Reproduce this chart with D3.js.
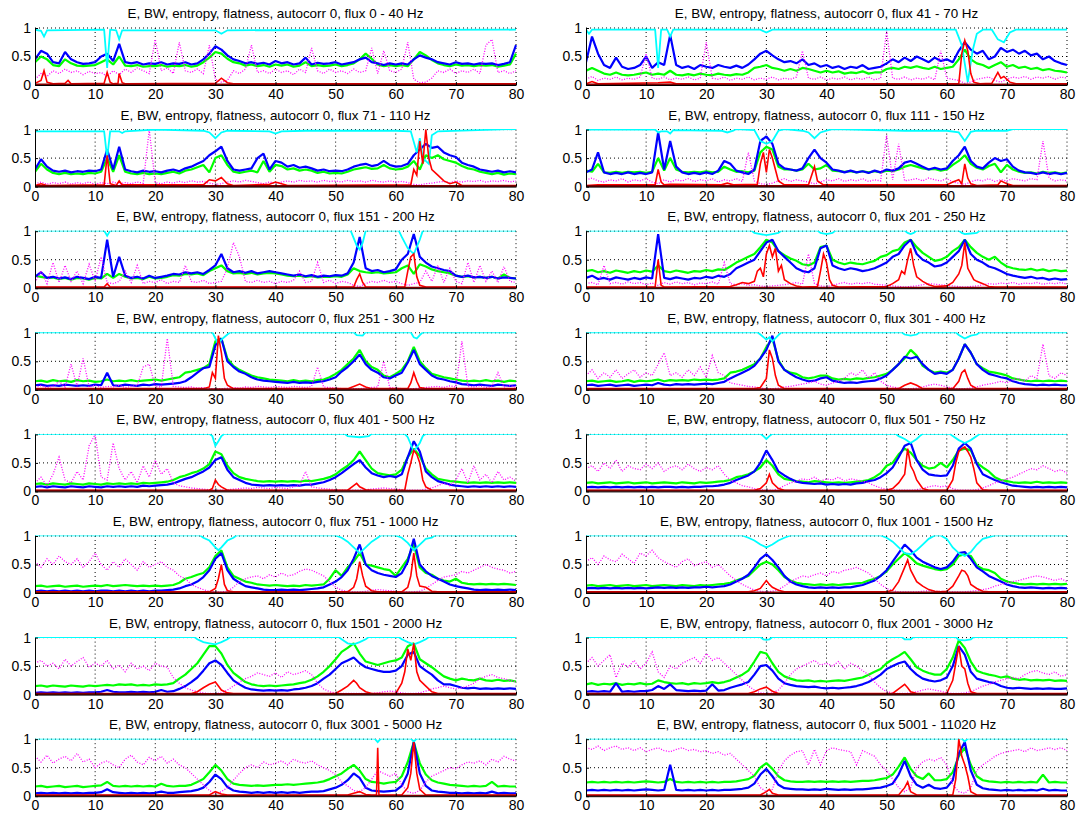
<!DOCTYPE html>
<html>
<head>
<meta charset="utf-8">
<script src="https://cdn.jsdelivr.net/npm/d3@7"></script>
<style>
  body { margin: 0; background: #fff; }
</style>
</head>
<body>
<div id="chart"></div>
<script>

var titles = [
  'E, BW, entropy, flatness, autocorr 0, flux 0 - 40 Hz',
  'E, BW, entropy, flatness, autocorr 0, flux 41 - 70 Hz',
  'E, BW, entropy, flatness, autocorr 0, flux 71 - 110 Hz',
  'E, BW, entropy, flatness, autocorr 0, flux 111 - 150 Hz',
  'E, BW, entropy, flatness, autocorr 0, flux 151 - 200 Hz',
  'E, BW, entropy, flatness, autocorr 0, flux 201 - 250 Hz',
  'E, BW, entropy, flatness, autocorr 0, flux 251 - 300 Hz',
  'E, BW, entropy, flatness, autocorr 0, flux 301 - 400 Hz',
  'E, BW, entropy, flatness, autocorr 0, flux 401 - 500 Hz',
  'E, BW, entropy, flatness, autocorr 0, flux 501 - 750 Hz',
  'E, BW, entropy, flatness, autocorr 0, flux 751 - 1000 Hz',
  'E, BW, entropy, flatness, autocorr 0, flux 1001 - 1500 Hz',
  'E, BW, entropy, flatness, autocorr 0, flux 1501 - 2000 Hz',
  'E, BW, entropy, flatness, autocorr 0, flux 2001 - 3000 Hz',
  'E, BW, entropy, flatness, autocorr 0, flux 3001 - 5000 Hz',
  'E, BW, entropy, flatness, autocorr 0, flux 5001 - 11020 Hz'
];

var xTicks = [0, 10, 20, 30, 40, 50, 60, 70, 80];
var yTicks = [0, 50, 100];            // values are stored in hundredths
var yTickLabels = ['0', '0.5', '1'];

// one value per time unit (0..80), hundredths
var blueVals = [
  [45,60,55,40,38,58,45,40,37,38, 40,50,55,42,72,40,38,40,36,38, 37,40,36,38,37,40,36,38,45,55, 68,62,52,45,42,38,40,37,39,36, 42,38,40,36,38,48,36,39,37,38, 40,36,38,40,45,48,40,38,35,38, 36,38,36,45,52,48,45,40,38,36, 40,37,38,36,38,37,38,35,37,40, 70],
  [40,85,55,35,30,48,32,28,30,35, 50,30,40,35,88,35,30,33,28,35, 32,30,35,32,30,34,30,36,45,55, 60,52,45,40,42,38,45,35,38,32, 35,30,33,28,32,30,35,28,30,32, 38,45,40,48,42,50,45,40,48,42, 45,40,60,75,62,55,60,45,50,65, 58,62,55,60,52,55,45,50,42,38, 35],
  [30,48,35,28,26,28,25,27,26,28, 27,30,65,30,70,30,27,25,28,26, 27,25,28,30,27,32,35,40,45,55, 62,70,45,30,28,30,32,50,58,30, 45,42,35,38,33,35,32,28,30,27, 28,27,30,35,38,40,36,38,45,38, 35,36,40,55,65,75,68,70,60,55, 52,42,38,35,30,28,26,28,25,27, 25],
  [25,30,60,25,22,24,22,25,22,24, 22,25,95,30,80,35,25,22,24,22, 25,22,28,45,40,28,25,22,30,80, 88,75,40,32,30,28,32,50,65,50, 42,30,28,25,28,25,27,24,28,25, 30,28,32,42,45,40,35,30,33,30, 32,45,55,70,45,35,32,42,50,45, 48,35,28,25,24,22,25,22,24,22, 24],
  [20,28,18,20,17,19,16,20,18,16, 20,18,85,20,55,22,18,20,17,22, 18,20,22,25,24,28,26,28,25,32, 40,60,35,28,30,27,30,26,28,30, 28,26,24,22,24,21,23,20,22,21, 23,22,26,45,90,35,30,32,28,30, 33,50,60,95,55,45,38,35,32,30, 22,20,22,19,20,18,20,17,19,18, 17],
  [18,22,16,18,15,19,17,15,18,16, 19,17,95,18,16,19,17,15,18,17, 20,18,22,20,25,35,40,45,50,65, 80,85,65,55,45,35,30,28,35,70, 75,40,35,32,35,33,30,32,35,40, 45,55,60,75,85,60,50,45,38,40, 45,55,65,85,60,50,45,38,35,30, 25,22,20,18,20,17,18,15,17,15, 16],
  [8,9,7,8,7,9,8,7,8,7, 9,8,30,8,7,9,8,7,9,8, 10,9,10,11,12,15,22,30,38,40, 78,90,50,40,32,28,22,18,16,15, 14,13,12,14,12,13,12,14,15,18, 22,32,40,50,62,45,35,30,22,20, 25,30,48,70,45,35,25,20,18,15, 13,10,9,8,9,8,7,9,8,7, 8],
  [8,9,7,8,9,7,8,9,7,8, 9,8,12,9,8,10,9,10,9,10, 11,10,12,14,20,25,30,35,42,55, 70,95,50,35,28,22,18,15,16,20, 22,16,14,12,13,12,14,15,16,20, 25,35,45,58,55,58,45,35,28,30, 28,35,55,80,65,45,35,28,25,22, 20,15,12,10,9,8,9,8,9,8, 8],
  [8,9,7,9,8,7,9,8,7,9, 8,7,9,8,9,8,9,8,10,9, 10,11,12,14,18,22,25,30,35,42, 55,60,38,25,20,15,12,11,10,11, 10,11,10,11,10,12,12,14,16,20, 25,32,40,48,55,42,32,28,25,27, 25,30,60,88,70,35,25,18,15,12, 10,9,8,9,8,9,8,9,8,9, 8],
  [7,8,7,8,7,8,7,8,7,8, 7,8,7,8,8,7,8,7,8,8, 9,9,10,12,15,20,24,28,35,50, 72,55,35,28,22,17,15,14,13,14, 12,13,12,13,12,14,15,18,20,25, 32,42,60,80,85,55,38,30,28,27, 28,45,75,85,75,48,30,25,20,16, 13,10,9,8,7,8,7,8,7,8, 7],
  [3,4,3,4,3,4,3,4,3,4, 3,4,4,3,4,3,4,3,4,3, 4,4,5,6,8,12,15,20,28,40, 60,70,40,25,18,12,10,8,6,5, 5,6,5,6,5,6,7,8,10,15, 20,28,40,60,85,50,40,35,32,30, 28,35,55,95,50,38,30,25,20,15, 12,10,8,6,5,6,5,6,5,6, 5],
  [8,9,8,9,8,9,8,9,8,9, 8,9,10,9,10,9,10,9,10,10, 11,10,11,12,15,20,25,32,45,60, 68,58,45,30,20,15,12,10,9,10, 9,10,9,10,10,12,14,18,22,30, 40,55,70,85,75,62,55,50,45,42, 45,55,70,72,60,45,38,30,25,20, 15,12,10,9,10,9,8,9,8,9, 8],
  [3,4,3,4,3,4,3,4,3,4, 4,5,8,5,4,4,5,4,5,4, 5,8,5,6,10,15,22,30,42,55, 60,52,38,25,18,12,9,8,7,8, 7,8,7,9,10,12,15,20,28,35, 45,55,60,65,55,48,45,42,40,40, 42,50,70,75,50,42,35,25,18,18, 15,12,11,12,10,11,10,11,10,11, 10],
  [5,6,5,6,5,20,5,6,5,6, 6,8,15,10,18,8,7,6,7,6, 7,18,7,8,12,15,18,22,35,50, 52,42,28,20,17,15,14,13,14,12, 11,12,11,12,13,15,18,22,28,35, 45,50,55,58,45,35,28,25,23,25, 30,50,85,70,40,28,25,22,20,15, 12,11,12,11,10,11,10,11,10,10, 11],
  [5,6,5,6,5,6,5,6,5,6, 6,7,12,7,6,5,6,5,6,5, 6,8,6,6,7,8,9,11,15,25, 38,30,16,10,8,7,6,7,6,7, 6,7,6,7,6,7,8,8,9,12, 15,20,28,40,32,15,10,9,8,9, 10,18,40,95,40,18,10,8,7,6, 6,5,6,5,6,5,8,5,6,5, 5],
  [10,11,10,11,10,11,10,11,10,11, 12,11,10,11,55,11,10,11,10,11, 10,11,10,11,11,12,13,15,22,38, 48,35,20,14,13,12,12,11,12,11, 13,12,11,12,11,12,12,13,14,15, 18,22,38,62,35,20,15,20,14,13, 15,28,75,95,45,20,14,12,11,10, 11,10,11,10,11,10,13,10,11,10, 10]
];

var greenVals = [
  [40,50,45,35,33,45,38,34,33,34, 35,40,45,36,50,34,33,35,32,33, 33,35,32,34,33,35,32,34,40,48, 58,55,46,40,38,34,36,33,35,32, 36,34,36,32,34,40,33,35,33,34, 36,33,35,38,45,55,46,36,33,35, 33,35,33,45,58,52,44,38,35,33, 36,34,35,33,35,34,35,32,34,36, 55],
  [25,30,25,20,18,22,18,17,18,20, 22,18,20,18,25,18,17,19,17,20, 18,17,20,18,17,19,18,22,30,32, 35,30,28,25,28,25,30,28,25,22, 25,22,24,20,22,21,24,20,22,22, 28,30,28,32,30,33,30,28,32,28, 30,32,45,62,45,38,35,30,35,40, 32,35,30,32,28,30,26,28,25,24, 22],
  [26,40,30,24,22,24,22,23,22,24, 23,26,50,26,55,26,23,22,24,22, 23,22,24,26,23,28,30,34,38,25, 50,55,38,26,24,26,28,25,45,26, 38,36,30,32,28,30,28,24,26,23, 24,23,26,30,32,34,31,32,38,32, 30,31,35,45,30,55,50,55,48,45, 42,36,32,30,26,24,22,24,21,23, 22],
  [28,26,40,25,24,26,24,26,25,26, 24,26,50,28,50,30,26,25,26,25, 27,25,26,35,30,26,27,25,28,60, 70,65,35,30,30,28,30,40,30,32, 38,28,27,26,27,25,27,25,27,25, 28,27,30,35,38,35,32,30,31,28, 30,38,45,55,40,33,30,36,40,25, 38,30,26,24,25,23,26,24,25,23, 25],
  [22,20,18,19,16,18,15,18,17,15, 18,17,25,18,25,20,17,18,16,20, 17,18,20,23,22,25,24,26,23,30, 35,40,30,26,27,25,27,24,26,27, 26,24,22,21,22,20,21,19,20,20, 21,20,24,35,30,28,27,28,26,27, 28,35,40,25,42,38,33,30,28,26, 22,20,21,19,20,18,20,17,24,18, 17],
  [30,32,28,30,27,31,29,27,30,28, 31,29,40,30,28,31,29,27,30,29, 32,30,33,32,38,45,50,55,60,72, 85,80,65,58,52,48,42,40,45,72, 75,50,45,42,45,43,42,45,48,55, 58,65,68,80,85,72,62,55,48,50, 55,65,72,85,72,62,55,50,55,45, 38,35,33,32,34,31,33,30,32,30, 31],
  [15,16,14,17,15,16,14,17,15,16, 14,15,18,15,16,15,17,15,16,17, 18,16,18,20,22,30,32,35,38,45, 85,90,55,42,35,30,25,22,20,18, 17,16,15,17,15,16,15,17,18,22, 28,35,45,55,70,50,40,35,25,22, 28,35,50,75,50,38,28,25,22,20, 18,16,15,16,15,17,15,16,14,16, 15],
  [15,16,14,15,16,14,15,17,14,16, 15,16,18,15,17,16,17,16,18,17, 18,17,18,20,30,32,35,40,45,55, 75,90,52,35,30,28,22,20,22,25, 25,20,18,19,18,20,19,21,22,25, 28,35,45,55,70,60,42,35,30,32, 30,35,55,80,65,45,38,32,30,28, 25,20,18,16,15,16,15,16,15,16, 15],
  [13,14,12,14,13,12,14,13,12,14, 13,12,14,13,14,13,14,13,15,14, 15,16,17,20,25,28,32,35,40,48, 70,65,45,32,25,22,20,18,17,18, 17,18,17,18,17,19,18,20,22,25, 30,38,45,55,70,55,40,32,30,28, 30,38,60,75,62,40,30,22,20,18, 17,16,15,16,15,16,15,16,15,16, 15],
  [15,16,14,15,16,14,15,16,14,15, 16,14,15,16,15,14,16,15,14,16, 15,16,17,18,20,25,27,30,35,42, 55,45,30,22,20,18,17,16,18,17, 16,15,16,15,16,17,18,20,25,32, 45,50,65,75,68,55,45,40,42,50, 42,55,72,75,72,50,42,35,25,20, 18,16,15,16,15,17,15,16,15,16, 15],
  [12,13,11,12,13,11,12,13,11,12, 13,12,14,12,13,14,13,12,13,12, 13,12,13,14,18,25,28,32,35,45, 65,75,45,30,25,20,18,15,14,13, 14,13,12,13,12,14,13,14,15,25, 40,30,45,55,70,50,48,45,42,40, 30,45,60,85,45,35,32,25,22,20, 25,18,16,15,16,15,16,15,16,15, 14],
  [13,14,12,13,14,12,13,14,12,13, 14,12,13,14,13,12,14,13,12,14, 13,14,15,16,18,22,26,30,40,50, 55,50,40,28,22,18,16,15,14,15, 14,15,14,15,16,17,18,22,25,30, 38,50,60,70,62,52,48,45,42,40, 42,50,65,68,65,48,42,40,35,25, 20,18,16,15,16,15,16,15,16,15, 16],
  [15,16,14,16,15,14,16,15,14,16, 15,16,17,16,18,17,18,16,17,16, 18,17,18,20,28,35,45,55,70,85, 85,72,52,38,30,22,18,16,15,16, 15,16,17,18,20,22,26,32,40,50, 62,75,82,90,72,58,55,52,55,58, 60,65,85,90,62,55,48,40,32,28, 25,28,26,25,28,25,24,26,24,25, 23],
  [18,20,17,19,18,20,17,19,18,20, 18,19,25,22,20,19,20,18,20,19, 20,22,20,22,25,30,35,42,58,75, 72,55,40,32,28,25,24,25,23,24, 23,24,25,24,26,28,30,35,40,45, 55,62,68,75,62,48,42,38,35,35, 45,65,95,82,58,42,38,35,33,30, 32,28,26,27,25,26,25,26,24,25, 24],
  [17,18,16,17,18,16,17,18,16,17, 18,19,25,18,17,18,17,18,17,18, 17,22,18,17,18,18,20,25,30,42, 55,45,30,22,20,19,18,19,18,19, 20,20,21,20,21,22,23,24,26,30, 35,40,48,55,45,30,25,24,22,24, 25,35,60,95,58,38,28,24,22,20, 19,18,17,18,17,18,25,17,18,17, 17],
  [24,25,24,25,24,25,24,25,24,25, 26,25,24,25,30,25,24,25,24,25, 24,25,24,25,25,26,28,30,36,50, 58,48,35,28,26,25,25,26,25,26, 25,26,25,26,25,26,27,27,28,30, 32,38,52,68,48,35,30,40,28,28, 30,42,70,85,55,35,28,26,25,24, 25,24,25,24,25,24,38,24,25,24, 24]
];

var magentaVals = [
  [10,20,15,25,20,28,22,25,18,24, 20,22,15,25,18,28,22,30,25,20, 80,25,30,20,75,25,22,28,20,70, 10,5,8,25,20,28,70,22,25,20, 28,22,25,18,28,22,65,25,20,28, 22,25,20,28,22,25,65,20,60,25, 22,28,75,10,4,5,12,25,22,28, 20,25,22,28,20,70,80,22,25,20, 25],
  [10,15,8,12,10,14,9,12,10,14, 55,12,10,14,9,12,10,14,9,12, 75,12,10,14,8,12,10,14,9,12, 10,14,9,12,10,14,60,12,10,14, 9,12,10,14,9,12,10,14,9,12, 95,12,10,14,9,12,10,14,9,60, 12,10,8,3,5,10,12,14,8,5, 10,14,12,15,10,14,12,15,10,14, 12],
  [5,8,4,7,5,8,4,7,5,8, 4,7,5,8,4,7,5,8,6,100, 7,5,8,6,9,7,10,8,9,6, 4,5,8,10,8,11,9,7,5,8, 6,8,10,8,11,9,10,8,11,9, 10,8,11,9,10,8,11,9,8,10, 8,9,7,4,3,5,6,8,9,7, 10,8,10,9,11,8,10,9,11,8, 10],
  [12,15,10,8,12,10,14,8,12,10, 14,8,5,12,8,12,10,14,9,12, 10,14,8,12,10,14,9,60,10,5, 4,6,10,14,9,12,10,8,5,8, 12,10,14,9,12,10,14,9,12,10, 90,12,75,10,12,14,10,15,12,10, 14,8,6,4,8,12,10,14,9,12, 10,14,12,10,14,12,80,15,10,12, 10],
  [10,30,8,45,10,40,12,30,8,42, 12,55,10,8,12,30,10,40,8,12, 10,15,8,12,10,40,12,10,14,8, 10,12,35,80,55,12,10,14,10,12, 8,12,10,14,30,10,12,45,10,14, 8,12,10,5,3,8,12,10,14,10, 12,8,5,8,10,30,12,40,10,35, 12,8,45,10,40,12,30,10,38,12, 10],
  [8,10,6,40,8,10,7,11,8,10, 6,9,5,10,7,11,8,10,6,9, 8,11,7,45,8,6,8,5,6,4, 3,4,5,6,8,10,7,60,8,4, 3,5,8,10,7,9,8,10,7,6, 5,4,3,2,3,4,6,8,7,6, 5,4,3,2,3,4,6,8,7,9, 8,10,7,9,8,10,7,9,8,10, 7],
  [5,7,4,6,15,5,45,6,55,5, 8,4,6,5,8,4,6,7,40,45, 6,5,90,6,5,4,5,3,4,2, 2,2,3,4,3,5,4,6,5,4, 6,5,4,6,5,4,6,40,5,4, 3,2,2,2,2,3,4,5,50,4, 3,2,2,2,3,4,5,6,4,7, 5,85,6,5,7,4,6,30,5,7, 5],
  [25,35,20,30,22,35,20,28,35,22, 30,25,45,65,25,30,22,35,25,40, 22,60,30,25,12,10,8,6,5,3, 2,2,3,5,6,8,10,12,15,10, 8,12,15,20,30,25,35,20,30,15, 8,5,3,2,2,3,5,8,10,8, 5,3,2,2,3,5,8,10,12,15, 12,18,20,15,25,20,80,25,20,30, 25],
  [15,25,10,30,60,20,15,35,20,80, 100,25,20,85,40,20,35,15,45,25, 55,30,40,15,10,8,6,5,4,3, 2,2,3,4,5,6,5,7,6,5, 7,6,5,8,10,35,8,6,5,4, 3,2,2,2,2,3,4,5,6,5, 4,3,2,2,2,4,6,10,15,10, 20,40,15,45,20,30,15,35,20,25, 18],
  [40,45,35,50,40,55,35,45,40,38, 48,40,50,35,42,45,38,48,40,35, 42,38,45,30,20,15,10,8,5,3, 2,2,5,10,15,18,22,20,25,18, 22,20,25,18,22,20,18,15,10,6, 4,3,2,2,2,3,5,8,10,8, 10,5,2,2,2,3,6,10,15,18, 22,25,30,35,40,38,45,40,35,38, 32],
  [55,45,60,50,65,55,50,60,45,55, 70,50,40,55,45,60,50,40,55,45, 50,55,45,40,30,25,15,10,6,3, 2,2,3,10,20,25,28,30,25,32, 28,35,30,32,38,42,40,35,30,20, 10,5,3,2,2,3,5,6,5,4, 3,2,2,2,3,8,15,22,28,30, 32,38,35,40,45,50,45,42,40,35, 38],
  [55,62,50,65,58,55,68,60,52,70, 65,75,62,55,50,45,55,60,48,52, 55,45,50,40,30,22,15,10,5,3, 2,3,6,12,20,25,30,28,32,35, 30,38,35,40,42,45,40,35,25,15, 8,4,2,2,2,2,3,4,3,3, 2,2,2,2,3,4,6,8,12,15, 18,20,22,25,28,30,28,25,22,25, 20],
  [55,60,50,55,45,62,50,58,65,48, 55,50,60,45,52,40,55,45,50,42, 55,50,48,30,20,12,8,5,3,2, 2,3,8,15,22,28,32,38,35,32, 38,30,40,35,38,42,35,20,10,5, 3,2,2,2,2,2,2,3,5,6, 5,3,2,2,3,6,10,12,15,12, 10,12,15,20,28,32,35,30,28,25, 22],
  [55,65,50,60,70,30,55,48,60,45, 55,75,40,30,50,45,55,60,65,55, 72,60,65,55,45,35,25,15,8,3, 2,3,8,20,35,45,50,55,60,52, 55,50,58,45,55,50,42,35,22,12, 5,3,2,2,3,5,8,10,8,6, 3,2,2,3,5,10,15,18,22,25, 28,30,28,35,40,42,38,35,40,32, 35],
  [70,60,72,58,65,70,62,75,60,65, 50,58,62,55,50,65,72,60,55,68, 62,70,58,65,55,50,40,30,20,10, 5,8,15,28,40,50,55,50,60,55, 58,62,55,65,60,58,62,55,50,45, 38,25,18,10,8,15,30,45,40,35, 40,20,8,5,10,25,35,40,45,50, 48,55,60,58,62,55,65,60,70,65, 62],
  [85,82,88,80,85,88,82,85,80,85, 78,82,85,80,78,82,85,80,82,78, 80,75,78,72,75,65,55,45,35,15, 8,12,45,62,72,78,80,55,82,55, 80,85,82,80,78,55,80,75,70,55, 45,30,15,8,15,50,60,65,62,68, 55,20,8,5,15,45,55,62,70,75, 78,80,82,78,85,80,82,85,82,85, 80]
];

// [time, value] points, value in hundredths (above 100 = off the top)
var cyanPts = [
  [[0,97],[1,95],[1.5,85],[2,96],[11.5,97],[12,30],[12.5,97],[13.5,96],[14,80],[14.5,96],[30,96],[31,90],[32,96],[80,97]],
  [[0,97],[0.5,90],[1,97],[11.5,97],[12,30],[12.5,97],[13.5,97],[14,85],[14.5,97],[29,97],[30,92],[31,97],[61.5,97],[62.5,70],[63.5,5],[64.3,60],[65,90],[66,97],[67.5,97],[68.5,80],[69.5,75],[70.5,92],[71.5,97],[80,97]],
  [[0,97],[11.5,97],[12,50],[12.5,97],[14,97],[14.5,94],[15,97],[20,100],[28,98],[29,95],[30,85],[31,95],[32,98],[39,97],[40,93],[41,97],[45,98],[60,98],[62.5,97],[63.5,60],[64,85],[64.5,50],[65.5,40],[66,90],[67,97],[80,101]],
  [[0,100],[11.5,100],[12,95],[12.5,97],[13.5,97],[14,93],[14.5,99],[22.5,98],[23.5,95],[24.5,98],[25,101],[28,99],[29,80],[30,75],[31,80],[32,98],[33,101],[36,98],[37,95],[38,85],[39,95],[40,98],[41,101],[53,98],[55,98],[60,98],[62,95],[63,80],[64,96],[65,98],[67,98],[70,98],[71,101],[80,101]],
  [[0,101],[11.5,101],[12,92],[12.5,101],[52.5,101],[53.5,75],[54,68],[54.5,80],[55,101],[60.5,101],[61,90],[62,70],[63,60],[64,85],[64.5,101],[80,101]],
  [[0,101],[27.5,101],[28,97],[29,95],[30,93],[31,95],[32,97],[32.5,101],[38.5,101],[39,97],[40,95],[41,97],[41.5,101],[53,101],[53.5,97],[54,95],[54.5,97],[55,101],[62,101],[62.5,97],[63,95],[64,96],[65,97],[65.5,101],[80,101]],
  [[0,101],[29.5,101],[30,90],[30.5,80],[31,88],[32,97],[32.5,101],[53,101],[53.5,96],[54.5,95],[55,101],[62.5,101],[63,92],[63.5,90],[64,96],[64.5,101],[80,101]],
  [[0,101],[28.5,101],[29,97],[30,88],[30.5,92],[31,85],[32,96],[32.5,101],[52.5,101],[53,97],[54,95],[55,97],[55.5,101],[61.5,101],[62,96],[63,90],[64,95],[65,97],[65.5,101],[80,101]],
  [[0,101],[29,101],[29.5,97],[30,80],[30.5,88],[31,97],[31.5,101],[51.5,101],[52,97],[54,95],[55.5,97],[56,101],[61.5,101],[62,95],[63,70],[64,85],[64.5,97],[65,101],[80,101]],
  [[0,101],[29,101],[29.5,97],[30,92],[30.5,97],[31,101],[51.5,101],[52,97],[53,92],[54,85],[55,92],[55.5,97],[56,101],[60.5,101],[61,97],[62,90],[63,85],[64,90],[65,97],[65.5,101],[80,101]],
  [[0,101],[27.5,101],[28,97],[29,92],[30,80],[30.5,75],[31,80],[32,92],[33,97],[33.5,101],[50,101],[51,97],[52,90],[53,80],[54,70],[55,80],[56,90],[57,97],[57.5,101],[60,101],[61,97],[62,88],[63,75],[64,85],[65,95],[66,97],[66.5,101],[80,101]],
  [[0,101],[26,101],[27,97],[28,92],[29,85],[30,80],[31,85],[32,92],[33,97],[34,101],[49,101],[50,97],[51,90],[52,80],[53,70],[54,68],[55,75],[56,85],[57,95],[58,101],[59,101],[60,95],[61,80],[62,70],[63,65],[64,72],[65,85],[66,95],[67,98],[68,101],[80,101]],
  [[0,101],[26.5,101],[27,97],[28,92],[29,90],[30,88],[31,92],[32,97],[32.5,101],[50.5,101],[51,97],[52,90],[53,88],[54,92],[55,97],[55.5,101],[60.5,101],[61,97],[62,92],[63,88],[64,92],[65,97],[65.5,101],[80,101]],
  [[0,101],[29,101],[29.5,97],[30,96],[30.5,97],[31,101],[52.5,101],[53,97],[54,97],[54.5,101],[61.5,101],[62,96],[63,95],[64,97],[64.5,101],[80,101]],
  [[0,101],[56.5,101],[57,95],[57.5,101],[62.5,101],[63,96],[63.5,101],[80,101]],
  [[0,101],[62.5,101],[63,96],[63.5,101],[80,101]]
];

var redPts = [
  [[0,3],[1,8],[1.5,25],[2,5],[3,2],[5,3],[5.5,8],[6,2],[11.5,3],[12,22],[12.5,5],[13,2],[13.8,3],[14,20],[14.5,4],[15,2],[30,3],[31,12],[32,4],[33,2],[80,2]],
  [[0,2],[1,6],[2,2],[12,4],[14,5],[15,2],[62,2],[62.5,55],[63,78],[63.5,60],[64,20],[64.5,5],[65.5,2],[67.5,3],[68.5,22],[69,12],[69.5,15],[70.5,5],[71.5,2],[80,2]],
  [[0,2],[1,5],[2,2],[11.5,3],[12,55],[12.5,5],[13.5,2],[14,10],[14.5,3],[28,3],[29,12],[30,10],[31,16],[32,5],[33,2],[39,4],[40,8],[41,5],[42,2],[62.5,3],[63,30],[63.5,20],[64,80],[64.5,40],[65,100],[65.5,50],[66,30],[67,20],[68,10],[69,5],[70,8],[71,2],[80,2]],
  [[0,2],[2,3],[11.5,3],[12,30],[12.5,8],[13,3],[14,4],[22.5,3],[23.5,6],[24.5,3],[28.5,4],[29,40],[29.5,60],[30,25],[30.5,65],[31,50],[31.5,30],[32,10],[33,3],[37,3],[38,35],[38.5,10],[39.5,3],[60,3],[61,8],[62,12],[62.5,5],[63,40],[63.5,15],[64,5],[65,2],[68.5,3],[69,10],[70,5],[71,2],[80,2]],
  [[0,2],[11.5,2],[12,8],[12.5,2],[53,2],[53.5,15],[54,25],[54.5,10],[55,2],[61.5,2],[62,30],[62.5,55],[63,60],[63.5,20],[64,5],[65,2],[80,2]],
  [[0,2],[11.5,2],[12,50],[12.5,5],[13,2],[24,3],[25,6],[26,10],[27,8],[28,12],[28.5,30],[29,35],[29.5,20],[30,60],[30.5,75],[31,55],[31.5,70],[32,30],[32.5,40],[33,15],[34,8],[35,4],[36,2],[38.5,3],[39,30],[39.5,60],[40,45],[40.5,15],[41,5],[42,2],[50,3],[51,8],[52,15],[52.5,30],[53,25],[53.5,50],[54,70],[54.5,40],[55,20],[56,12],[57,6],[58,3],[60,4],[61,10],[62,25],[62.5,40],[63,80],[63.5,35],[64,25],[64.5,15],[65,12],[66,8],[67,3],[68,2],[80,2]],
  [[0,2],[28,2],[29,5],[29.5,30],[30,20],[30.5,95],[31,65],[31.5,20],[32,8],[33,2],[52,2],[53,6],[54,10],[55,5],[56,2],[62,2],[62.5,12],[63,30],[63.5,15],[64,4],[65,2],[80,2]],
  [[0,2],[28,2],[29,4],[30,20],[30.5,70],[31,55],[31.5,25],[32,8],[33,2],[52,2],[53,8],[54,12],[55,8],[56,2],[61,2],[62,15],[62.5,30],[63,35],[63.5,20],[64,8],[65,2],[80,2]],
  [[0,2],[29,2],[29.5,5],[30,20],[30.5,12],[31,8],[32,2],[52,2],[53,10],[53.5,14],[54,8],[55,3],[56,2],[61.5,2],[62,30],[62.5,50],[63,72],[63.5,65],[64,50],[64.5,20],[65,8],[66,2],[80,2]],
  [[0,2],[28,2],[29,5],[30,15],[30.5,30],[31,15],[32,5],[33,2],[50,2],[51,5],[52,15],[53,30],[53.5,75],[54,45],[54.5,35],[55,20],[56,5],[57,2],[60,2],[61,20],[61.5,50],[62,70],[62.5,75],[63,78],[63.5,70],[64,60],[64.5,40],[65,15],[66,3],[67,2],[80,2]],
  [[0,2],[29,2],[30,8],[30.5,25],[31,50],[31.5,15],[32,4],[33,2],[52,2],[53,10],[53.5,25],[54,55],[54.5,30],[55,12],[56,4],[57,2],[61,2],[62,10],[62.5,30],[63,70],[63.5,30],[64,12],[65,10],[66,3],[67,2],[80,2]],
  [[0,2],[27,2],[28,4],[29,8],[30,22],[30.5,15],[31,10],[32,5],[33,2],[50,2],[51,5],[52,20],[53,45],[53.5,58],[54,40],[55,20],[56,12],[57,6],[58,3],[59,2],[60,3],[61,12],[62,30],[62.5,40],[63,38],[63.5,30],[64,15],[65,8],[66,3],[67,2],[80,2]],
  [[0,2],[26,2],[27,5],[28,12],[29,18],[30,22],[30.5,15],[31,8],[32,3],[33,2],[50,2],[51,8],[52,15],[53,25],[53.5,20],[54,12],[55,5],[56,2],[60,2],[61,20],[61.5,40],[62,80],[62.5,60],[63,90],[63.5,40],[64,25],[65,15],[66,5],[67,2],[80,2]],
  [[0,2],[27,2],[28,5],[29,10],[30,13],[31,6],[32,2],[51,2],[52,10],[53,18],[53.5,12],[54,5],[55,2],[60,2],[61,25],[62,85],[62.5,50],[63,45],[63.5,20],[64,5],[65,2],[80,2]],
  [[0,2],[29,2],[30,8],[31,4],[32,2],[52,2],[53,5],[54,8],[55,3],[56,2],[56.8,2],[57,85],[57.2,2],[61,2],[62,15],[62.5,40],[63,95],[63.5,40],[64,12],[65,2],[80,2]],
  [[0,2],[29,2],[30,8],[30.5,12],[31,5],[32,2],[52,2],[53,15],[53.5,25],[54,8],[55,2],[61,2],[61.5,30],[62,100],[62.5,70],[63,55],[63.5,35],[64,8],[65,2],[80,2]]
];

// flux sits on the floor in every band
var fluxLevel = [1,1,1,1, 1,1,1,1, 1,1,1,1, 1,1,1,1];


var width = 1083;
var height = 818;

var panelLeft = [35, 586];
var rowTop = 28;
var rowStep = 101.6;
var plotW = 481;
var plotH = 57;

var svg = d3.select('#chart')
    .append('svg')
    .attr('width', width)
    .attr('height', height)
    .style('background-color', '#fff')
    .style('font-family', 'Liberation Sans, Arial, sans-serif');

svg.append('defs')
    .append('clipPath')
    .attr('id', 'plotClip')
    .append('rect')
    .attr('x', 0)
    .attr('y', -0.5)
    .attr('width', plotW + 1)
    .attr('height', plotH + 1);

var x = d3.scaleLinear().domain([0, 80]).range([0, plotW]);
var y = d3.scaleLinear().domain([0, 100]).range([plotH, 0]);

var lineIdx = d3.line()
    .x(function(d, i) { return x(i); })
    .y(function(d) { return y(d); });

var linePts = d3.line()
    .x(function(d) { return x(d[0]); })
    .y(function(d) { return y(d[1]); });

titles.forEach(function(title, k) {
  var col = k % 2;
  var row = Math.floor(k / 2);

  var g = svg.append('g')
      .attr('transform', 'translate(' + panelLeft[col] + ',' + (rowTop + row * rowStep) + ')');

  // grid
  g.selectAll('.vgrid')
      .data(xTicks.slice(1))
      .enter()
      .append('line')
      .attr('x1', function(d) { return x(d); })
      .attr('x2', function(d) { return x(d); })
      .attr('y1', 0)
      .attr('y2', plotH)
      .attr('stroke', '#000')
      .attr('stroke-width', 1)
      .attr('stroke-dasharray', '1,3');

  g.selectAll('.hgrid')
      .data(yTicks.slice(1))
      .enter()
      .append('line')
      .attr('x1', 0)
      .attr('x2', plotW)
      .attr('y1', function(d) { return y(d); })
      .attr('y2', function(d) { return y(d); })
      .attr('stroke', '#000')
      .attr('stroke-width', 1)
      .attr('stroke-dasharray', '1,3');

  var plot = g.append('g').attr('clip-path', 'url(#plotClip)');

  plot.append('path')
      .datum(greenVals[k])
      .attr('fill', 'none')
      .attr('stroke', '#00ff00')
      .attr('stroke-width', 2.2)
      .attr('stroke-linejoin', 'bevel')
      .attr('d', lineIdx);

  plot.append('path')
      .datum(blueVals[k])
      .attr('fill', 'none')
      .attr('stroke', '#0000ff')
      .attr('stroke-width', 2.2)
      .attr('stroke-linejoin', 'bevel')
      .attr('d', lineIdx);

  plot.append('path')
      .datum(magentaVals[k])
      .attr('fill', 'none')
      .attr('stroke', '#ff00ff')
      .attr('stroke-width', 1.3)
      .attr('stroke-dasharray', '1,1.6')
      .attr('d', lineIdx);

  plot.append('path')
      .datum(cyanPts[k])
      .attr('fill', 'none')
      .attr('stroke', '#00ffff')
      .attr('stroke-width', 1.8)
      .attr('d', linePts);

  plot.append('path')
      .datum(redPts[k])
      .attr('fill', 'none')
      .attr('stroke', '#ff0000')
      .attr('stroke-width', 1.6)
      .attr('d', linePts);

  plot.append('path')
      .datum([[0, fluxLevel[k]], [80, fluxLevel[k]]])
      .attr('fill', 'none')
      .attr('stroke', '#800000')
      .attr('stroke-width', 2)
      .attr('d', linePts);

  // axes, ticks pointing in
  var xAxis = d3.axisBottom(x)
      .tickValues(xTicks)
      .tickSizeInner(-3)
      .tickSizeOuter(0)
      .tickPadding(4);

  var yAxis = d3.axisLeft(y)
      .tickValues(yTicks)
      .tickFormat(function(d, i) { return yTickLabels[i]; })
      .tickSizeInner(-3)
      .tickSizeOuter(0)
      .tickPadding(4);

  var xg = g.append('g')
      .attr('transform', 'translate(0,' + plotH + ')')
      .call(xAxis);

  var yg = g.append('g')
      .call(yAxis);

  [xg, yg].forEach(function(a) {
    a.selectAll('text')
        .style('font-size', '14px')
        .style('font-family', 'Liberation Sans, Arial, sans-serif')
        .attr('fill', '#000');
    a.selectAll('line').attr('stroke', '#000');
    a.select('.domain').attr('stroke', '#000');
  });

  g.append('text')
      .attr('x', plotW / 2)
      .attr('y', -10)
      .attr('text-anchor', 'middle')
      .text(title)
      .style('fill', '#000')
      .style('font-size', '13.4px');
});

</script>
</body>
</html>
